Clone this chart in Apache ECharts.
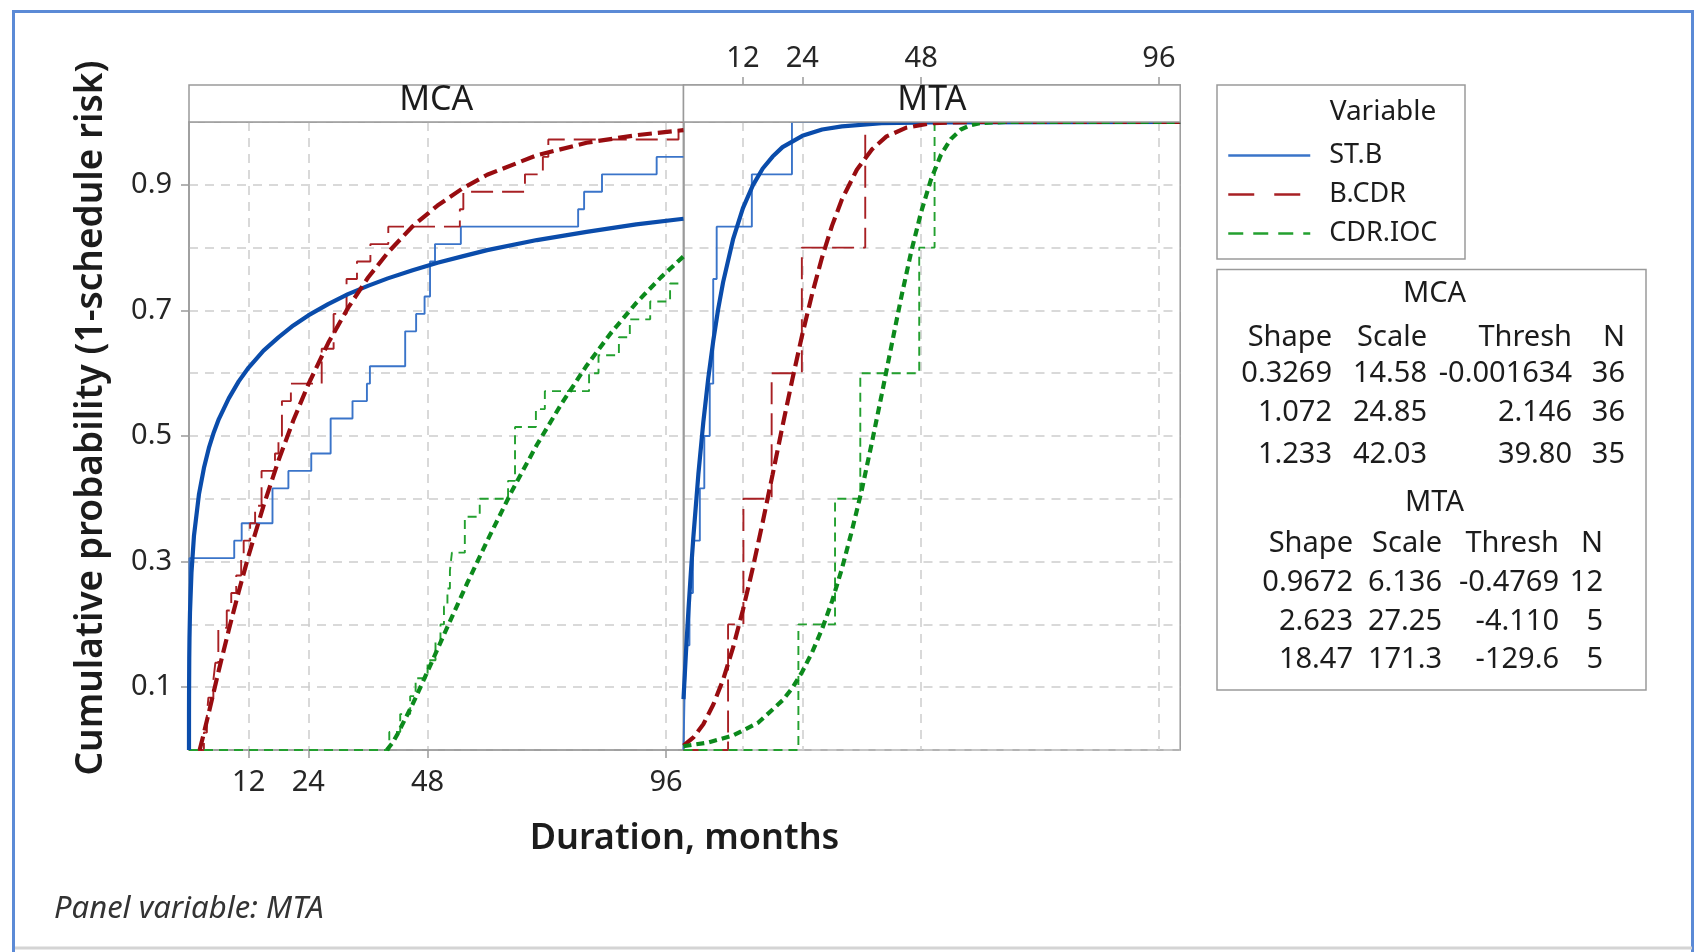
<!DOCTYPE html>
<html>
<head>
<meta charset="utf-8">
<script src="https://cdn.jsdelivr.net/npm/echarts@6/dist/echarts.min.js"></script>
<style>html,body{margin:0;padding:0;background:#fff}#c{width:1704px;height:952px}</style>
</head>
<body>
<div id="c"></div>
<script>
// ---------------- data ----------------
const panels = ['MCA', 'MTA'];
const variables = ['ST.B', 'B.CDR', 'CDR.IOC'];
const xTickValues = [12, 24, 48, 96];
const yTickValues = [0.1, 0.3, 0.5, 0.7, 0.9];
const xMaxMCA = 99.5;
const xMaxMTA = 100.3;

// empirical CDF steps: x where the step happens, cumulative count after the step
const mcaStbN = 36;
const mcaStbStepX = [0.1, 9.1, 10.6, 16.8, 20.0, 24.6, 28.5, 32.9, 35.8, 36.4, 43.5, 45.7, 47.4, 48.5, 49.5, 54.7, 78.3, 79.5, 83.1, 94.1];
const mcaStbStepK = [11, 12, 13, 15, 16, 17, 19, 20, 21, 22, 24, 25, 26, 28, 29, 30, 31, 32, 33, 34];

const mcaBcdrN = 36;
const mcaBcdrStepX = [3.0, 3.6, 3.9, 4.9, 5.3, 5.9, 7.6, 8.5, 9.5, 10.5, 11.0, 12.3, 13.3, 14.6, 17.3, 18.0, 18.7, 20.5, 26.7, 29.1, 31.7, 33.8, 36.5, 40.1, 54.5, 55.2, 67.6, 71.2, 72.3, 98.5];
const mcaBcdrStepK = [1, 2, 3, 4, 5, 7, 8, 9, 10, 11, 12, 13, 14, 16, 17, 18, 20, 21, 23, 25, 27, 28, 29, 30, 31, 32, 33, 34, 35, 36];

const mcaIocN = 35;
const mcaIocStepX = [40.3, 42.5, 44.5, 45.6, 48.0, 49.6, 50.6, 51.3, 52.0, 52.5, 52.9, 55.5, 58.5, 64.2, 65.6, 69.8, 71.6, 80.5, 82.4, 86.5, 88.7, 92.8, 96.8];
const mcaIocStepK = [1, 2, 3, 4, 5, 6, 7, 8, 9, 10, 11, 13, 14, 15, 18, 19, 20, 21, 22, 23, 24, 25, 26];

const mtaStbN = 12;
const mtaStbStepX = [0.2, 0.6, 1.2, 1.9, 3.3, 4.2, 5.3, 6.0, 6.7, 13.8, 21.9];
const mtaStbStepK = [1, 2, 3, 4, 5, 6, 7, 9, 10, 11, 12];

const mtaBcdrN = 5;
const mtaBcdrStepX = [9.0, 12.1, 17.8, 23.9, 36.7];
const mtaBcdrStepK = [1, 2, 3, 4, 5];

const mtaIocN = 5;
const mtaIocStepX = [23.2, 30.6, 35.7, 47.6, 50.7];
const mtaIocStepK = [1, 2, 3, 4, 5];

// fitted 3-parameter Weibull curves [duration, probability]
const mcaStbFit = [[0,0],[0.001,0.058],[0.01,0.088],[0.05,0.146],[0.1,0.179],[0.2,0.219],[0.5,0.283],[1,0.341],[2,0.407],[3,0.449],[4,0.481],[5,0.506],[6,0.527],[8,0.560],[10,0.587],[12,0.609],[15,0.636],[18,0.657],[21,0.676],[24,0.692],[28,0.710],[32,0.726],[36,0.739],[40,0.751],[45,0.764],[50,0.776],[55,0.786],[60,0.796],[70,0.812],[80,0.825],[90,0.837],[99.5,0.846]];
const mcaBcdrFit = [[2.146,0],[3,0.027],[4,0.060],[6,0.127],[8,0.191],[10,0.252],[12,0.310],[15,0.389],[18,0.461],[21,0.525],[24,0.582],[28,0.648],[32,0.704],[36,0.752],[40,0.792],[45,0.834],[50,0.867],[55,0.894],[60,0.916],[70,0.947],[80,0.967],[90,0.979],[99.5,0.987]];
const mcaIocFit = [[39.8,0],[41,0.012],[42,0.026],[45,0.073],[48,0.125],[52,0.196],[56,0.266],[60,0.333],[65,0.413],[70,0.486],[75,0.552],[80,0.612],[85,0.665],[90,0.712],[95,0.753],[99.5,0.786]];
const mtaStbFit = [[0,0.081],[0.5,0.156],[1,0.223],[1.5,0.284],[2,0.340],[3,0.439],[4,0.522],[5,0.592],[6,0.651],[7,0.702],[8,0.745],[10,0.813],[12,0.863],[14,0.899],[16,0.926],[18,0.945],[20,0.960],[24,0.978],[28,0.988],[32,0.993],[40,0.998],[50,0.9995],[100.3,1]];
const mtaBcdrFit = [[0,0.007],[2,0.020],[4,0.041],[6,0.072],[8,0.112],[10,0.163],[12,0.223],[14,0.290],[16,0.363],[18,0.439],[20,0.516],[22,0.591],[24,0.662],[26,0.727],[28,0.785],[30,0.835],[32,0.877],[35,0.924],[38,0.956],[41,0.977],[45,0.991],[50,0.998],[55,0.9995],[60,1],[100.3,1]];
const mtaIocFit = [[0,0.006],[5,0.012],[10,0.023],[15,0.043],[20,0.079],[22,0.099],[24,0.125],[26,0.156],[28,0.193],[30,0.237],[32,0.289],[34,0.349],[36,0.414],[38,0.488],[40,0.565],[42,0.644],[44,0.722],[46,0.794],[48,0.857],[50,0.909],[52,0.948],[54,0.973],[56,0.988],[58,0.995],[60,0.9985],[65,1],[100.3,1]];

// parameter table
const tableHeader = ['Shape', 'Scale', 'Thresh', 'N'];
const mcaTable = [['0.3269', '14.58', '-0.001634', '36'], ['1.072', '24.85', '2.146', '36'], ['1.233', '42.03', '39.80', '35']];
const mtaTable = [['0.9672', '6.136', '-0.4769', '12'], ['2.623', '27.25', '-4.110', '5'], ['18.47', '171.3', '-129.6', '5']];

// ---------------- styling ----------------
const FONT = '"Noto Sans", "Open Sans", sans-serif';
const TXT = '#1c1c1c';
const AX = '#9a9a9a';
const GRIDC = '#cdcdcd';
const sty = {
  'ST.B':    { thin: '#3a74c9', thick: '#0a4cab', thinType: 'solid', thickType: 'solid', legType: 'solid' },
  'B.CDR':   { thin: '#a82024', thick: '#980c10', thinType: [22, 9], thickType: [14, 6], legType: [26, 20] },
  'CDR.IOC': { thin: '#23a02f', thick: '#0c8a1c', thinType: [9, 6], thickType: [8, 5], legType: [15, 10] }
};

function ecdf(xs, ks, n, xmax) {
  const pts = [[0, 0]];
  xs.forEach((x, i) => pts.push([x, ks[i] / n]));
  pts.push([xmax, ks[ks.length - 1] / n]);
  return pts;
}

const panelData = [
  { emp: [ecdf(mcaStbStepX, mcaStbStepK, mcaStbN, xMaxMCA), ecdf(mcaBcdrStepX, mcaBcdrStepK, mcaBcdrN, xMaxMCA), ecdf(mcaIocStepX, mcaIocStepK, mcaIocN, xMaxMCA)],
    fit: [mcaStbFit, mcaBcdrFit, mcaIocFit], xAxisIndex: 0, yAxisIndex: 0 },
  { emp: [ecdf(mtaStbStepX, mtaStbStepK, mtaStbN, xMaxMTA), ecdf(mtaBcdrStepX, mtaBcdrStepK, mtaBcdrN, xMaxMTA), ecdf(mtaIocStepX, mtaIocStepK, mtaIocN, xMaxMTA)],
    fit: [mtaStbFit, mtaBcdrFit, mtaIocFit], xAxisIndex: 1, yAxisIndex: 2 }
];

const series = [];
panelData.forEach(p => {
  variables.forEach((v, i) => {
    series.push({
      name: v, type: 'line', step: 'end', showSymbol: false, symbol: 'none',
      xAxisIndex: p.xAxisIndex, yAxisIndex: p.yAxisIndex, data: p.emp[i],
      lineStyle: { color: sty[v].thin, width: 1.9, type: sty[v].thinType }, itemStyle: { color: sty[v].thin }, z: 3
    });
  });
  variables.forEach((v, i) => {
    series.push({
      name: v + ' fit', type: 'line', showSymbol: false, symbol: 'none',
      xAxisIndex: p.xAxisIndex, yAxisIndex: p.yAxisIndex, data: p.fit[i],
      lineStyle: { color: sty[v].thick, width: 4.2, type: sty[v].thickType }, itemStyle: { color: sty[v].thick }, z: 4
    });
  });
});

const G = [
  { left: 189, top: 122, width: 494.5, height: 628 },
  { left: 683.5, top: 122, width: 496.7, height: 628 }
];
const STRIP_H = 37;

const gridLine = { show: true, lineStyle: { color: GRIDC, width: 1.5, type: [9, 7] } };
const tickFont = { fontSize: 29, fontFamily: FONT, color: '#262626' };

const graphics = [];
// outer frame
graphics.push({ type: 'rect', shape: { x: 13.5, y: 11.5, width: 1679, height: 960 }, style: { fill: 'none', stroke: '#5b8ad6', lineWidth: 3 }, z: 10 });
graphics.push({ type: 'line', shape: { x1: 15, y1: 948, x2: 1692, y2: 948 }, style: { stroke: '#d4d4d4', lineWidth: 3 }, z: 10 });
// strips
panels.forEach((name, i) => {
  graphics.push({ type: 'rect', shape: { x: G[i].left, y: G[i].top - STRIP_H, width: G[i].width, height: STRIP_H }, style: { fill: '#ffffff', stroke: AX, lineWidth: 1.5 }, z: 5 });
  graphics.push({ type: 'text', x: G[i].left + G[i].width / 2, y: G[i].top - STRIP_H / 2 - 3, style: { text: name, fontSize: 34, fontFamily: FONT, fill: TXT, align: 'center', verticalAlign: 'middle' }, z: 6 });
});
// axis titles
graphics.push({ type: 'text', x: 91, y: 418, rotation: Math.PI / 2, style: { text: 'Cumulative probability (1-schedule risk)', fontSize: 37, fontWeight: 600, fontFamily: FONT, fill: TXT, align: 'center', verticalAlign: 'middle' }, z: 6 });
graphics.push({ type: 'text', x: 684.5, y: 839, style: { text: 'Duration, months', fontSize: 36, fontWeight: 600, fontFamily: FONT, fill: TXT, align: 'center', verticalAlign: 'middle' }, z: 6 });
graphics.push({ type: 'text', x: 54, y: 909, style: { text: 'Panel variable: MTA', fontSize: 31, fontStyle: 'italic', fontFamily: FONT, fill: '#333', align: 'left', verticalAlign: 'middle' }, z: 6 });
// legend box
graphics.push({ type: 'rect', shape: { x: 1217, y: 85, width: 248, height: 174 }, style: { fill: 'none', stroke: AX, lineWidth: 1.5 }, z: 5 });
graphics.push({ type: 'text', x: 1383, y: 112, style: { text: 'Variable', fontSize: 28, fontFamily: FONT, fill: TXT, align: 'center', verticalAlign: 'middle' }, z: 6 });
// parameter table
graphics.push({ type: 'rect', shape: { x: 1217, y: 269.5, width: 429, height: 420.5 }, style: { fill: 'none', stroke: AX, lineWidth: 1.5 }, z: 5 });
function tableBlock(title, rows, titleY, headY, rowYs, rights) {
  graphics.push({ type: 'text', x: 1434.5, y: titleY, style: { text: title, fontSize: 29, fontFamily: FONT, fill: TXT, align: 'center', verticalAlign: 'middle' }, z: 6 });
  tableHeader.forEach((h, j) => graphics.push({ type: 'text', x: rights[j], y: headY, style: { text: h, fontSize: 29, fontFamily: FONT, fill: TXT, align: 'right', verticalAlign: 'middle' }, z: 6 }));
  rows.forEach((r, k) => r.forEach((c, j) => graphics.push({ type: 'text', x: rights[j], y: rowYs[k], style: { text: c, fontSize: 29, fontFamily: FONT, fill: TXT, align: 'right', verticalAlign: 'middle' }, z: 6 })));
}
tableBlock('MCA', mcaTable, 294, 338, [374, 413, 455], [1332, 1427, 1572, 1625]);
tableBlock('MTA', mtaTable, 503, 544, [582.5, 621.5, 659.5], [1353, 1442, 1559, 1603]);

const option = {
  animation: false,
  backgroundColor: '#ffffff',
  grid: G.map(g => Object.assign({ show: true, borderColor: AX, borderWidth: 1.5, backgroundColor: '#ffffff' }, g)),
  xAxis: [
    { type: 'value', gridIndex: 0, min: 0, max: xMaxMCA, position: 'bottom',
      axisLine: { show: true, onZero: false, lineStyle: { color: AX, width: 1.5 } },
      axisTick: { show: true, customValues: xTickValues, length: 8, lineStyle: { color: AX, width: 1.5 } },
      axisLabel: Object.assign({ customValues: xTickValues, margin: 18 }, tickFont),
      splitLine: gridLine },
    { type: 'value', gridIndex: 1, min: 0, max: xMaxMTA, position: 'top', offset: STRIP_H,
      axisLine: { show: true, onZero: false, lineStyle: { color: AX, width: 1.5 } },
      axisTick: { show: true, customValues: xTickValues, length: 8, lineStyle: { color: AX, width: 1.5 } },
      axisLabel: Object.assign({ customValues: xTickValues, margin: 12 }, tickFont),
      splitLine: gridLine }
  ],
  yAxis: [
    { type: 'value', gridIndex: 0, min: 0, max: 1, position: 'left',
      axisLine: { show: true, onZero: false, lineStyle: { color: AX, width: 1.5 } },
      axisTick: { show: true, customValues: yTickValues, length: 8, lineStyle: { color: AX, width: 1.5 } },
      axisLabel: Object.assign({ customValues: yTickValues, margin: 17 }, tickFont),
      splitLine: { show: false } },
    { type: 'value', gridIndex: 0, min: 0, max: 1, interval: 0.1, position: 'right',
      axisLine: { show: false }, axisTick: { show: false }, axisLabel: { show: false },
      splitLine: gridLine },
    { type: 'value', gridIndex: 1, min: 0, max: 1, interval: 0.1, position: 'left',
      axisLine: { show: true, onZero: false, lineStyle: { color: AX, width: 1.5 } },
      axisTick: { show: false }, axisLabel: { show: false },
      splitLine: gridLine }
  ],
  legend: {
    orient: 'vertical', left: 1222, top: 137, itemWidth: 82, itemHeight: 14, itemGap: 12,
    selectedMode: false,
    itemStyle: { opacity: 0 },
    textStyle: { fontSize: 27, fontFamily: FONT, color: TXT, lineHeight: 27, padding: [0, 0, 0, 14] },
    data: variables.map(v => ({ name: v, lineStyle: { color: sty[v].thin, width: 2.5, type: sty[v].legType } }))
  },
  graphic: graphics,
  series: series
};

const chart = echarts.init(document.getElementById('c'), null, { renderer: 'canvas' });
chart.setOption(option);
</script>
</body>
</html>
